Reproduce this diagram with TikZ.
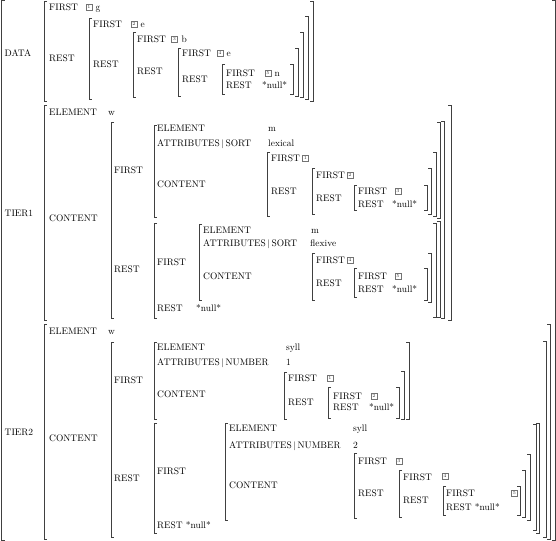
\documentclass[tikz,border=0pt]{standalone}
\usepackage{amsmath}
\usepackage{tikz}
\tikzset{
	avm/.style={anchor=west, inner sep=0pt, text height=6.5pt, text depth=0pt, font=\fontsize{9.5}{11}\selectfont},
	tagbox/.style={draw=black!55, line width=0.4pt, minimum size=6pt, inner sep=0pt, text=black!80, font=\fontsize{4.6}{4.6}\selectfont},
	brk/.style={line width=0.6pt, draw=black!75},
}
\newcommand{\lbrk}[3]{\draw[brk] (#1+3,#2) -- (#1,#2) -- (#1,#3) -- (#1+3,#3);}
\newcommand{\rbrk}[3]{\draw[brk] (#1-3,#2) -- (#1,#2) -- (#1,#3) -- (#1-3,#3);}
\newcommand{\attr}[1]{ATTRIBUTES\,$|$\,#1}

\begin{document}
\begin{tikzpicture}[x=1bp, y=-1bp]
	\useasboundingbox (0,0) rectangle (556,541);

	\lbrk{1.5}{0.8}{540.2}
	\rbrk{555}{0.8}{540.2}

	\node[avm] (data) at (4.5,53) {DATA};
	\node[avm] (tierA) at (4.5,213) {TIER1};
	\node[avm] (tierB) at (4.5,432) {TIER2};

	% DATA
	\lbrk{44}{1}{101} \rbrk{313}{1}{101}
	\node[avm] (d1f) at (49,7) {FIRST};
	\node[tagbox] (d1t) at (89,7) {1};
	\node[avm] (d1v) at (95.5,7) {g};
	\node[avm] (d1r) at (49,58) {REST};
	\lbrk{89}{18}{99} \rbrk{308}{16}{99}
	\node[avm] (d2f) at (93,24) {FIRST};
	\node[tagbox] (d2t) at (134,24) {2};
	\node[avm] (d2v) at (140.5,24) {e};
	\node[avm] (d2r) at (93,64) {REST};
	\lbrk{133}{32}{97} \rbrk{303}{32}{97}
	\node[avm] (d3f) at (137,39) {FIRST};
	\node[tagbox] (d3t) at (174.5,39) {3};
	\node[avm] (d3v) at (181.5,39) {b};
	\node[avm] (d3r) at (137,71) {REST};
	\lbrk{178}{48}{96} \rbrk{298}{48}{96}
	\node[avm] (d4f) at (182,53) {FIRST};
	\node[tagbox] (d4t) at (220,53) {4};
	\node[avm] (d4v) at (226.5,53) {e};
	\node[avm] (d4r) at (182,79) {REST};
	\lbrk{222}{64}{94} \rbrk{293}{64}{94}
	\node[avm] (d5f) at (226,73) {FIRST};
	\node[tagbox] (d5t) at (268,73) {5};
	\node[avm] (d5v) at (274.5,73) {n};
	\node[avm] (d5r) at (226,85) {REST};
	\node[avm] (d5n) at (262,85) {*null*};

	% TIER1
	\lbrk{44}{105}{320} \rbrk{451}{105}{320}
	\node[avm] (t1e) at (49,112) {ELEMENT};
	\node[avm] (t1w) at (108,112) {w};
	\node[avm] (t1c) at (49,218) {CONTENT};
	\lbrk{111}{122}{318} \rbrk{444}{121}{318}
	\node[avm] (t1cf) at (114,170) {FIRST};
	\node[avm] (t1cr) at (114,269) {REST};
	\lbrk{154}{125}{217} \rbrk{440}{122}{218}
	\node[avm] (a1e) at (157,128) {ELEMENT};
	\node[avm] (a1ev) at (268,128) {m};
	\node[avm] (a1a) at (157,143) {\attr{SORT}};
	\node[avm] (a1av) at (268,143) {lexical};
	\node[avm] (a1c) at (157,184) {CONTENT};
	\lbrk{267}{152}{216} \rbrk{436}{152}{216}
	\node[avm] (b1f) at (271,158) {FIRST};
	\node[tagbox] (b1t) at (305.5,158) {1};
	\node[avm] (b1r) at (271,191) {REST};
	\lbrk{312}{168}{214} \rbrk{431}{168}{214}
	\node[avm] (b2f) at (316,175) {FIRST};
	\node[tagbox] (b2t) at (350,175) {2};
	\node[avm] (b2r) at (316,198) {REST};
	\lbrk{354}{185}{210} \rbrk{427}{185}{210}
	\node[avm] (b3f) at (358,191) {FIRST};
	\node[tagbox] (b3t) at (398,191) {3};
	\node[avm] (b3r) at (358,204) {REST};
	\node[avm] (b3n) at (392,204) {*null*};
	\lbrk{154}{223}{318} \rbrk{440}{221}{317}
	\node[avm] (c1f) at (157,262) {FIRST};
	\node[avm] (c1r) at (157,308) {REST};
	\node[avm] (c1n) at (196,308) {*null*};
	\lbrk{199}{224}{300} \rbrk{436}{223}{317}
	\node[avm] (e1e) at (203,230) {ELEMENT};
	\node[avm] (e1ev) at (311,230) {m};
	\node[avm] (e1a) at (203,243) {\attr{SORT}};
	\node[avm] (e1av) at (310,243) {flexive};
	\node[avm] (e1c) at (203,276) {CONTENT};
	\lbrk{312}{253}{300} \rbrk{431}{253}{302}
	\node[avm] (f1f) at (316,260) {FIRST};
	\node[tagbox] (f1t) at (350,260) {4};
	\node[avm] (f1r) at (316,283) {REST};
	\lbrk{354}{268}{297} \rbrk{427}{268}{300}
	\node[avm] (f2f) at (358,276) {FIRST};
	\node[tagbox] (f2t) at (398,276) {5};
	\node[avm] (f2r) at (358,289) {REST};
	\node[avm] (f2n) at (392,289) {*null*};

	% TIER2
	\lbrk{44}{324}{539} \rbrk{550}{324}{539}
	\node[avm] (t2e) at (49,331) {ELEMENT};
	\node[avm] (t2w) at (108,331) {w};
	\node[avm] (t2c) at (49,438) {CONTENT};
	\lbrk{111}{342}{537} \rbrk{546}{341}{537}
	\node[avm] (t2cf) at (114,380) {FIRST};
	\node[avm] (t2cr) at (114,478) {REST};
	\lbrk{154}{342}{419} \rbrk{409}{342}{419}
	\node[avm] (g1e) at (157,347) {ELEMENT};
	\node[avm] (g1ev) at (286,347) {syll};
	\node[avm] (g1a) at (157,362) {\attr{NUMBER}};
	\node[avm] (g1av) at (286,362) {1};
	\node[avm] (g1c) at (157,394) {CONTENT};
	\lbrk{284}{372}{419} \rbrk{404}{371}{419}
	\node[avm] (h1f) at (288,378) {FIRST};
	\node[tagbox] (h1t) at (330,378) {1};
	\node[avm] (h1r) at (288,402) {REST};
	\lbrk{328}{387}{418} \rbrk{399}{387}{418}
	\node[avm] (h2f) at (333,396) {FIRST};
	\node[tagbox] (h2t) at (374,396) {2};
	\node[avm] (h2r) at (333,407) {REST};
	\node[avm] (h2n) at (369,407) {*null*};
	\lbrk{154}{423}{533} \rbrk{539}{423}{533}
	\node[avm] (i1f) at (157,471) {FIRST};
	\node[avm] (i1r) at (157,525) {REST *null*};
	\lbrk{225}{423}{520} \rbrk{536}{424}{530}
	\node[avm] (j1e) at (229,428) {ELEMENT};
	\node[avm] (j1ev) at (353,428) {syll};
	\node[avm] (j1a) at (229,445) {\attr{NUMBER}};
	\node[avm] (j1av) at (353,445) {2};
	\node[avm] (j1c) at (229,485) {CONTENT};
	\lbrk{354}{453}{518} \rbrk{530}{454}{520}
	\node[avm] (k1f) at (358,461) {FIRST};
	\node[tagbox] (k1t) at (399,461) {3};
	\node[avm] (k1r) at (358,493) {REST};
	\lbrk{399}{470}{517} \rbrk{525}{470}{517}
	\node[avm] (l1f) at (403,477) {FIRST};
	\node[tagbox] (l1t) at (445,476) {4};
	\node[avm] (l1r) at (403,500) {REST};
	\lbrk{443}{486}{515} \rbrk{520}{486}{515}
	\node[avm] (m1f) at (446,493) {FIRST};
	\node[tagbox] (m1t) at (514.5,493) {5};
	\node[avm] (m1r) at (446,507) {REST *null*};
\end{tikzpicture}
\end{document}
